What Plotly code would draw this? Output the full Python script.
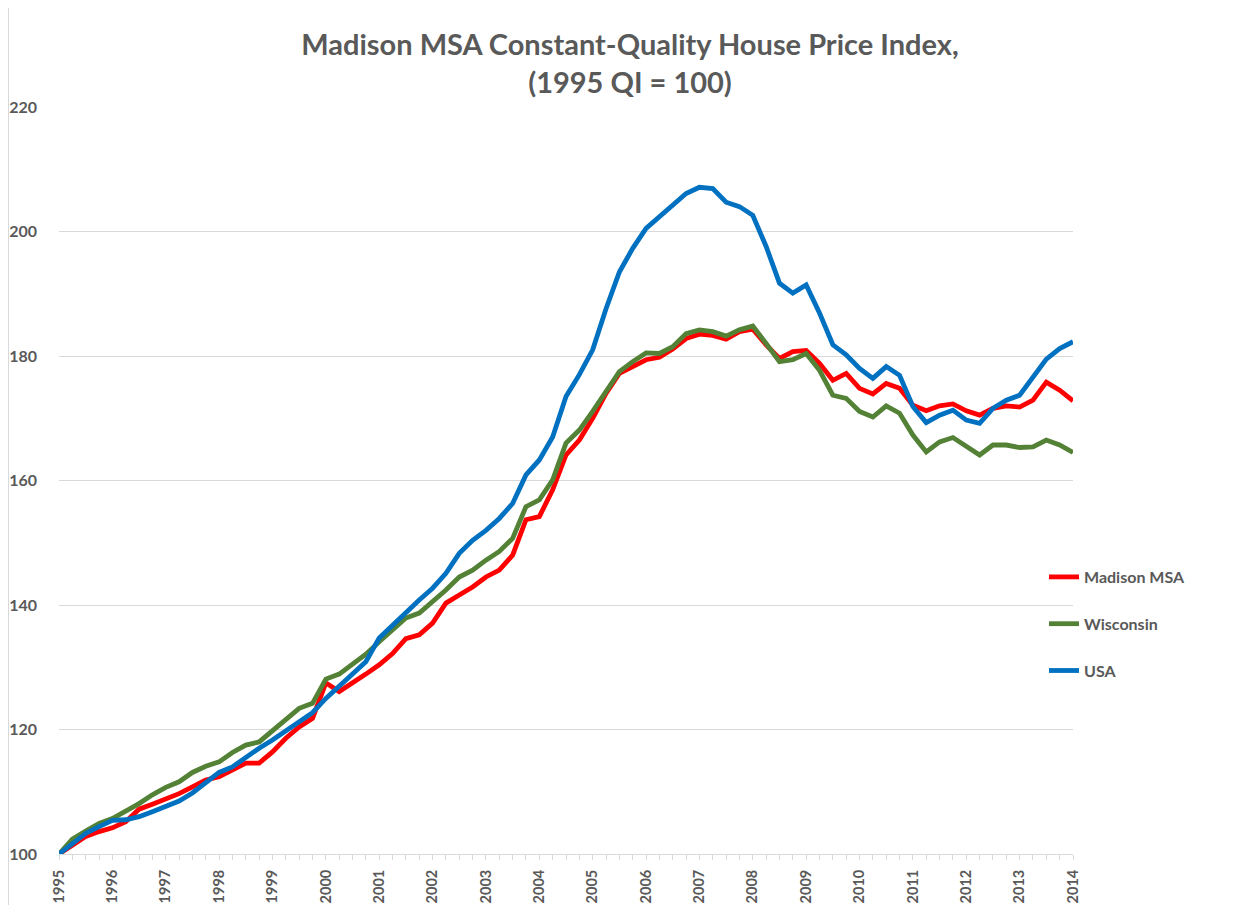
import plotly.graph_objects as go

quarters = [1995 + q / 4 for q in range(77)]
years = list(range(1995, 2015))

madison = [100, 101.4, 102.8, 103.6, 104.2, 105.2, 107.2, 108.0, 108.8, 109.7,
           110.8, 111.9, 112.4, 113.5, 114.6, 114.6, 116.4, 118.6, 120.4, 121.8,
           127.5, 126.1, 127.4, 128.9, 130.4, 132.2, 134.6, 135.2, 137.1, 140.3,
           141.6, 142.9, 144.5, 145.6, 148.0, 153.7, 154.2, 158.5, 164.1, 166.5,
           170.0, 174.0, 177.2, 178.3, 179.4, 179.8, 181.1, 182.8, 183.5, 183.3,
           182.7, 183.9, 184.3, 181.8, 179.6, 180.7, 180.9, 178.8, 176.1, 177.2,
           174.8, 173.9, 175.6, 174.8, 172.1, 171.2, 172.0, 172.3, 171.2, 170.5,
           171.6, 172.0, 171.8, 172.9, 175.8, 174.5, 172.8]

wisconsin = [100, 102.4, 103.7, 104.9, 105.7, 106.8, 108.1, 109.5, 110.7, 111.6,
             113.1, 114.1, 114.8, 116.3, 117.5, 118.0, 119.8, 121.8, 123.4, 124.2,
             128.1, 128.9, 130.6, 132.1, 134.1, 136.1, 137.9, 138.7, 140.5, 142.4,
             144.5, 145.6, 147.2, 148.6, 150.7, 155.8, 156.9, 160.1, 166.0, 168.1,
             171.1, 174.3, 177.5, 179.1, 180.5, 180.4, 181.5, 183.6, 184.2, 183.9,
             183.2, 184.2, 184.8, 182.0, 179.1, 179.4, 180.4, 177.7, 173.7, 173.2,
             171.1, 170.2, 172.0, 170.8, 167.3, 164.6, 166.2, 166.9, 165.4, 164.1,
             165.7, 165.7, 165.3, 165.4, 166.5, 165.7, 164.5]

usa = [100, 101.7, 103.3, 104.4, 105.4, 105.5, 106.0, 106.8, 107.6, 108.5,
       109.8, 111.4, 113.1, 114.0, 115.6, 117.0, 118.3, 119.8, 121.3, 122.7,
       125.0, 126.9, 128.9, 130.9, 134.7, 136.8, 138.9, 140.8, 142.7, 145.1,
       148.3, 150.4, 152.0, 153.9, 156.3, 160.9, 163.3, 167.0, 173.5, 177.0,
       181.0, 187.6, 193.5, 197.3, 200.5, 202.4, 204.1, 206.1, 207.1, 206.9,
       204.7, 204.0, 202.6, 197.6, 191.7, 190.1, 191.4, 186.9, 181.8, 180.2,
       178.0, 176.4, 178.3, 176.9, 171.9, 169.3, 170.5, 171.3, 169.7, 169.2,
       171.6, 172.9, 173.7, 176.7, 179.5, 181.2, 182.3]

series = [("Madison MSA", madison, "#FF0000"),
          ("Wisconsin", wisconsin, "#538135"),
          ("USA", usa, "#0070C0")]

GREY = "#595959"
FONT = "Lato"

# The page body adds an 8px offset; the figure is laid out in its own coordinates.
W, H = 1242, 897
L, R, T, B = 51, 177, 99, 51
PW = W - L - R
PH = H - T - B

fig = go.Figure()
for name, vals, col in series:
    fig.add_trace(go.Scatter(x=quarters, y=vals, mode="lines", name=name,
                             legendgroup=name,
                             line=dict(color=col, width=4.8)))

fig.update_layout(
    width=W, height=H,
    margin=dict(l=L, r=R, t=T, b=B, autoexpand=False),
    paper_bgcolor="white", plot_bgcolor="white",
    font=dict(family=FONT, color=GREY),
    title=dict(text="Madison MSA Constant-Quality House Price Index,<br>(1995 QI = 100)",
               x=622 / W, xref="container", xanchor="center",
               y=1 - 47 / H, yanchor="middle", yref="container",
               font=dict(family=FONT, size=29, color=GREY, weight="bold")),
    showlegend=True,
    legend=dict(x=(1036 - L) / PW, xanchor="left", y=(854 - 560) / 747, yanchor="top",
                traceorder="grouped", tracegroupgap=23,
                font=dict(family=FONT, size=16, color=GREY, weight="bold"),
                bgcolor="rgba(0,0,0,0)", itemwidth=30),
)

fig.update_xaxes(range=[1995, 2014], tickmode="array", tickvals=years,
                 ticktext=[str(y) for y in years], tickangle=-90,
                 tickfont=dict(family=FONT, size=14.5, color=GREY, weight="bold"),
                 showgrid=False, zeroline=False, automargin=False,
                 showline=True, linecolor="#D9D9D9", linewidth=1,
                 ticks="outside", ticklen=5, tickcolor="#D9D9D9",
                 minor=dict(dtick=0.25, tick0=1995, ticks="outside", ticklen=5,
                            tickcolor="#D9D9D9", showgrid=False),
                 ticklabelstandoff=4)

fig.update_yaxes(range=[100, 220], tickmode="linear", tick0=100, dtick=20,
                 tickfont=dict(family=FONT, size=16, color=GREY, weight="bold"),
                 showgrid=True, gridcolor="#D9D9D9", gridwidth=1,
                 zeroline=False, showline=False, ticks="", automargin=False,
                 ticklabelstandoff=21)

fig.add_shape(type="line", xref="paper", yref="paper",
              x0=(0.5 - L) / PW, x1=(0.5 - L) / PW, y0=-B / PH, y1=(H - B) / PH,
              line=dict(color="#D9D9D9", width=1))

fig.write_html("out.html")
